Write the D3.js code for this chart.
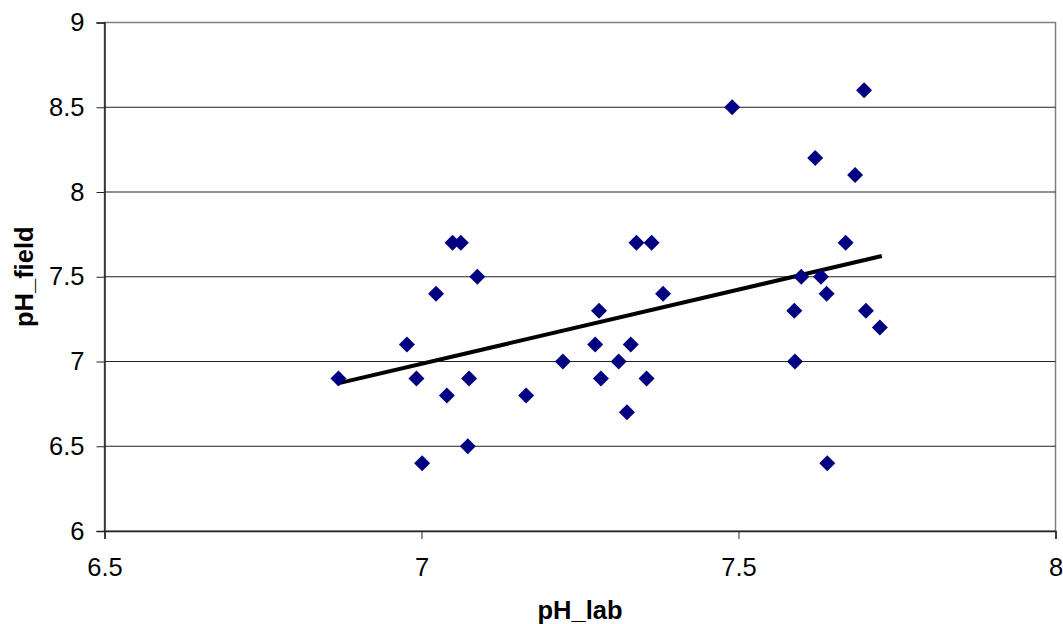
<!DOCTYPE html>
<html>
<head>
<meta charset="utf-8">
<script src="https://cdn.jsdelivr.net/npm/d3@7/dist/d3.min.js"></script>
<style>
  html, body { margin: 0; padding: 0; background: #fff; }
  svg { display: block; font-family: "Liberation Sans", Arial, sans-serif; }
</style>
</head>
<body>
<svg id="chart" width="1063" height="624"></svg>
<script>
// Data
const phLab = [6.869, 6.977, 6.992, 7.001, 7.023, 7.040, 7.049, 7.062, 7.075, 7.073, 7.088,
  7.165, 7.223, 7.274, 7.280, 7.283, 7.311, 7.330, 7.324, 7.339, 7.355, 7.363, 7.381,
  7.490, 7.588, 7.589, 7.599, 7.621, 7.630, 7.639, 7.640, 7.669, 7.684, 7.698, 7.701, 7.723];
const phField = [6.9, 7.1, 6.9, 6.4, 7.4, 6.8, 7.7, 7.7, 6.9, 6.5, 7.5,
  6.8, 7.0, 7.1, 7.3, 6.9, 7.0, 7.1, 6.7, 7.7, 6.9, 7.7, 7.4,
  8.5, 7.3, 7.0, 7.5, 8.2, 7.5, 7.4, 6.4, 7.7, 8.1, 8.6, 7.3, 7.2];
const trendX = [6.868, 7.726];
const trendY = [6.871, 7.622];
const xTicks = [6.5, 7, 7.5, 8];
const yTicks = [6, 6.5, 7, 7.5, 8, 8.5, 9];
const xTitle = "pH_lab";
const yTitle = "pH_field";

const svg = d3.select("#chart");
const x = d3.scaleLinear().domain([6.5, 8]).range([104.5, 1055.5]);
const y = d3.scaleLinear().domain([6, 9]).range([531, 22.5]);

// plot area border
svg.append("rect")
  .attr("x", x(6.5)).attr("y", y(9))
  .attr("width", x(8) - x(6.5)).attr("height", y(6) - y(9))
  .attr("fill", "#fff").attr("stroke", "#808080").attr("stroke-width", 1.5);

// gridlines
svg.append("g").selectAll("line").data(yTicks.filter(t => t > 6)).join("line")
  .attr("x1", x(6.5)).attr("x2", x(8))
  .attr("y1", d => y(d)).attr("y2", d => y(d))
  .attr("stroke", d => d === 9 ? "#808080" : "#222").attr("stroke-width", 1.2);

// y axis
const yAxis = d3.axisLeft(y).tickValues(yTicks).tickSize(8).tickPadding(12)
  .tickFormat(d => String(d));
const gy = svg.append("g").attr("transform", `translate(${x(6.5)},0)`).call(yAxis);
gy.select(".domain").attr("stroke", "#222").attr("stroke-width", 1.5);
gy.selectAll(".tick line").attr("stroke", "#222");
gy.selectAll(".tick text").attr("font-size", 25.5).attr("fill", "#000")
  .attr("font-family", "'Liberation Sans', Arial, sans-serif");

// x axis
const xAxis = d3.axisBottom(x).tickValues(xTicks).tickSize(8).tickPadding(19)
  .tickFormat(d => String(d));
const gx = svg.append("g").attr("transform", `translate(0,${y(6)})`).call(xAxis);
gx.select(".domain").attr("stroke", "#222").attr("stroke-width", 1.5);
gx.selectAll(".tick line").attr("stroke", "#222");
gx.selectAll(".tick text").attr("font-size", 25.5).attr("fill", "#000")
  .attr("font-family", "'Liberation Sans', Arial, sans-serif");

// trend line
svg.append("line")
  .attr("x1", x(trendX[0])).attr("y1", y(trendY[0]))
  .attr("x2", x(trendX[1])).attr("y2", y(trendY[1]))
  .attr("stroke", "#000").attr("stroke-width", 4);

// points (diamonds)
const pts = phLab.map((v, i) => ({ x: v, y: phField[i] }));
const sym = d3.symbol().type(d3.symbolSquare).size(128);
svg.append("g").selectAll("path").data(pts).join("path")
  .attr("d", sym)
  .attr("transform", d => `translate(${x(d.x)},${y(d.y)}) rotate(45)`)
  .attr("fill", "#000080");

// titles
svg.append("text")
  .attr("x", (x(6.5) + x(8)) / 2).attr("y", 619)
  .attr("text-anchor", "middle").attr("font-size", 25.5).attr("font-weight", "bold")
  .text(xTitle);
svg.append("text")
  .attr("transform", `translate(32.5,${(y(6) + y(9)) / 2}) rotate(-90)`)
  .attr("text-anchor", "middle").attr("font-size", 25.5).attr("font-weight", "bold")
  .text(yTitle);
</script>
</body>
</html>
